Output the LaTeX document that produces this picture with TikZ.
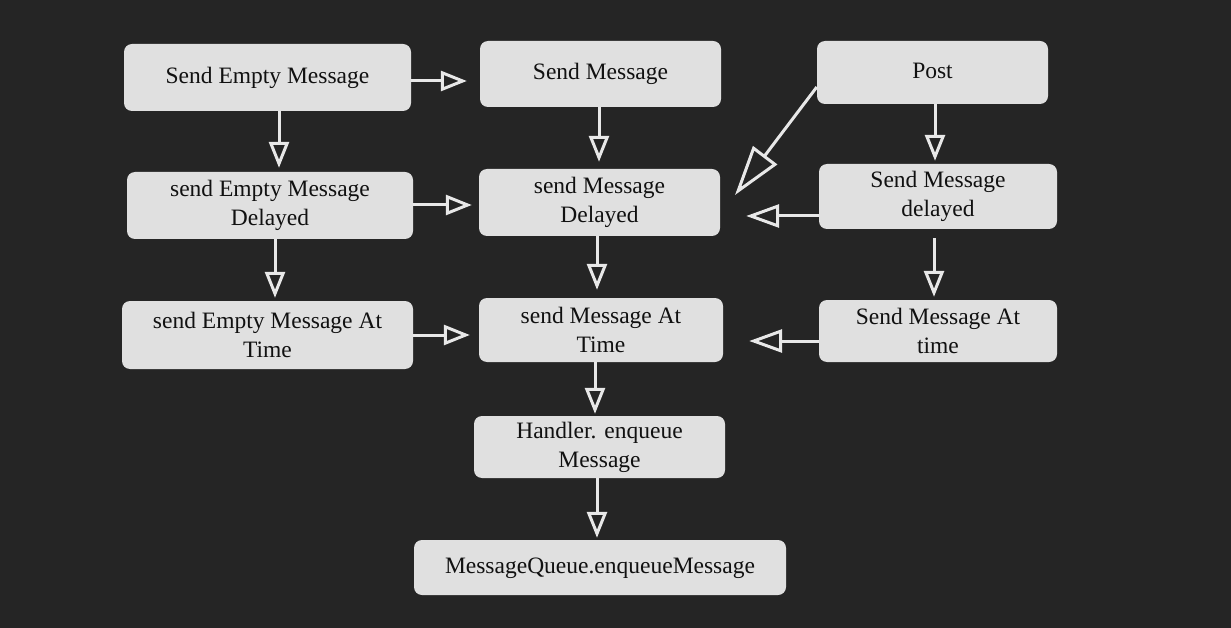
\documentclass[tikz,border=0pt]{standalone}
\usepackage{fontspec}
\setmainfont{Liberation Serif}
\usetikzlibrary{arrows.meta,calc}
\definecolor{bgc}{HTML}{252525}
\definecolor{boxc}{HTML}{E0E0E0}
\definecolor{arc}{HTML}{E8E8E8}
\definecolor{txc}{HTML}{111111}
\tikzset{
  box/.style={draw=none, fill=boxc, rounded corners=8pt, align=center, text=txc,
    font=\fontsize{23.5}{29}\selectfont, inner sep=0pt},
  arr/.style={draw=arc, line width=3pt, -{Triangle[open, length=26pt, width=20pt, line width=3pt]}},
  arrb/.style={draw=arc, line width=3pt, -{Triangle[open, length=33pt, width=23pt, line width=3pt]}},
  arrd/.style={draw=arc, line width=3pt, -{Triangle[open, length=50pt, width=30pt, line width=3pt]}}
}
\begin{document}
\begin{tikzpicture}[x=1pt,y=-1pt]
\fill[bgc] (0,0) rectangle (1231,628);
\useasboundingbox (0,0) rectangle (1231,628);

\node[box, minimum width=287pt, minimum height=67pt] (sem) at (267.5,77.5) {\strut Send Empty Message};
\node[box, minimum width=241pt, minimum height=66pt] (sm) at (600.5,74) {\strut Send Message};
\node[box, minimum width=231pt, minimum height=63pt] (post) at (932.5,72.5) {\strut Post};

\node[box, minimum width=286pt, minimum height=67pt] (semd) at (270,205.5) {send Empty Message\\Delayed};
\node[box, minimum width=241pt, minimum height=67pt] (smd) at (599.5,202.5) {send Message\\Delayed};
\node[box, minimum width=238pt, minimum height=65pt] (smdl) at (938,196.5) {Send Message\\delayed};

\node[box, minimum width=291pt, minimum height=68pt] (semat) at (267.5,335) {send Empty Message At\\Time};
\node[box, minimum width=244pt, minimum height=64pt] (smat) at (601,330) {send Message At\\Time};
\node[box, minimum width=238pt, minimum height=62pt] (smat2) at (938,331) {Send Message At\\time};

\node[box, minimum width=251pt, minimum height=62pt] (hem) at (599.5,447) {Handler. enqueue\\Message};
\node[box, minimum width=372pt, minimum height=55pt] (mq) at (600,567.5) {\strut MessageQueue.enqueueMessage};

\coordinate (postend) at (735,195);

% horizontal arrows to the right
\draw[arr, shorten >=13pt] ([yshift=-3.5pt]sem.east) -- ([yshift=-7pt]sm.west);
\draw[arr, shorten >=7pt] ([yshift=0.5pt]semd.east) -- ([yshift=-2.5pt]smd.west);
\draw[arr, shorten >=9pt] (semat.east) -- ([yshift=-5pt]smat.west);

% vertical arrows
\draw[arr, shorten >=4pt] ([xshift=11.5pt]sem.south) -- ([xshift=9pt]semd.north);
\draw[arr, shorten >=3pt] ([xshift=5pt]semd.south) -- ([xshift=7.5pt]semat.north);
\draw[arr, shorten >=7pt] ([xshift=-1.5pt]sm.south) -- ([xshift=-0.5pt]smd.north);
\draw[arr, shorten >=8pt] ([xshift=-2.5pt]smd.south) -- ([xshift=-4pt]smat.north);
\draw[arr, shorten >=2pt] ([xshift=-6pt]smat.south) -- ([xshift=-4.5pt]hem.north);
\draw[arr, shorten >=2pt] ([xshift=-2.5pt]hem.south) -- ([xshift=-3pt]mq.north);
\draw[arr, shorten >=3pt] ([xshift=2.5pt]post.south) -- ([xshift=-3pt]smdl.north);
\draw[arr, shorten <=9pt, shorten >=3pt] ([xshift=-4pt]smdl.south) -- ([xshift=-4pt]smat2.north);

% arrows to the left
\draw[arrb, shorten >=26pt] ([yshift=-19.5pt]smdl.west) -- ([yshift=-13.5pt]smd.east);
\draw[arrb, shorten >=26pt] ([yshift=-10pt]smat2.west) -- ([yshift=-11pt]smat.east);

% diagonal
\draw[arrd] ([yshift=-14.5pt]post.west) -- (postend);
\end{tikzpicture}
\end{document}
